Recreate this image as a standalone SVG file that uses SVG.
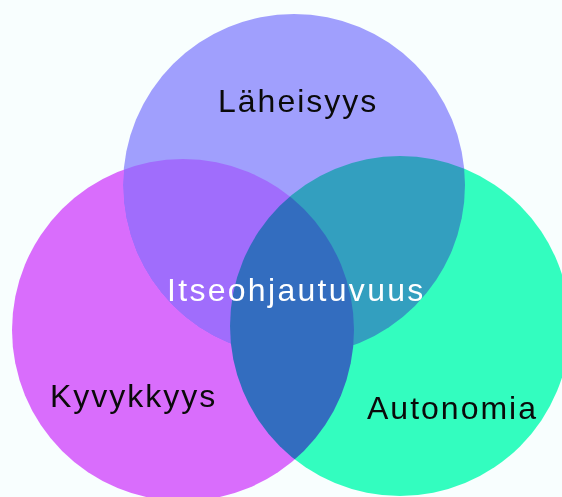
<svg xmlns="http://www.w3.org/2000/svg" width="562" height="497" viewBox="0 0 562 497">
  <style>
    .set { mix-blend-mode: darken; }
    .lbl { font-family: "Liberation Sans", Arial, sans-serif; font-size: 32px; letter-spacing: 2px; fill: #0a0a0a; }
    .center { fill: #ffffff; letter-spacing: 2.3px; }
  </style>
  <rect width="562" height="497" fill="#f8fefe"/>
  <g id="sets">
    <g id="laheisyys">
      <circle class="set" cx="294" cy="185" r="171" fill="#a09ffd"/>
    </g>
    <g id="kyvykkyys">
      <circle class="set" cx="183" cy="330" r="171" fill="#d96dfc"/>
    </g>
    <g id="autonomia">
      <circle class="set" cx="400" cy="326" r="170" fill="#33fdbf"/>
    </g>
  </g>
  <g id="labels">
    <text class="lbl" x="218" y="112">Läheisyys</text>
    <text class="lbl" x="50" y="407">Kyvykkyys</text>
    <text class="lbl" x="367" y="419">Autonomia</text>
    <g id="itseohjautuvuus">
      <text class="lbl center" x="167" y="301">Itseohjautuvuus</text>
    </g>
  </g>
</svg>
